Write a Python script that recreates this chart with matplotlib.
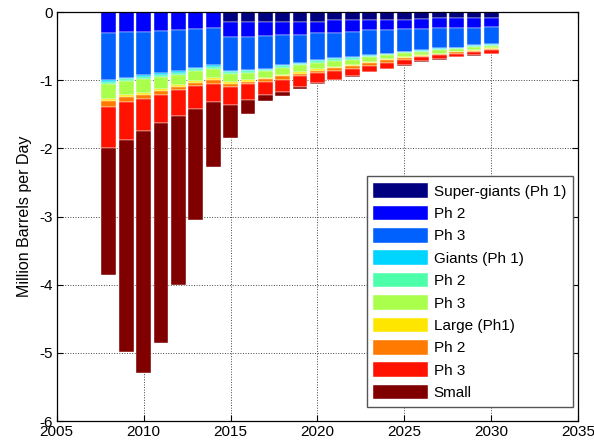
import numpy as np
import matplotlib
matplotlib.use("Agg")
import matplotlib.pyplot as plt

plt.rcParams['font.family'] = ['Liberation Sans', 'DejaVu Sans']
plt.rcParams['axes.unicode_minus'] = False

years = list(range(2008, 2031))

# Decline contributions by field class and phase (million barrels per day)
super_giants_ph1 = [0, 0, 0, 0, 0, 0, 0,
                    0.15, 0.14, 0.14, 0.14, 0.14, 0.14, 0.12, 0.12, 0.12,
                    0.11, 0.11, 0.105, 0.09, 0.09, 0.09, 0.08]
super_giants_ph2 = [0.30, 0.29, 0.29, 0.28, 0.26, 0.25, 0.24,
                    0.21, 0.22, 0.21, 0.20, 0.19, 0.17, 0.18, 0.17, 0.15,
                    0.15, 0.14, 0.145, 0.15, 0.15, 0.14, 0.145]
super_giants_ph3 = [0.70, 0.67, 0.64, 0.62, 0.61, 0.57, 0.54,
                    0.51, 0.49, 0.48, 0.44, 0.41, 0.40, 0.38, 0.37, 0.36,
                    0.35, 0.33, 0.31, 0.29, 0.28, 0.26, 0.245]
giants_ph1 = [0.02, 0.02, 0.02, 0.02, 0.02, 0.02, 0.02,
              0.015, 0.015, 0.015, 0.015, 0.015, 0.015, 0.015, 0.015, 0.01,
              0.01, 0.01, 0.01, 0.01, 0.01, 0.01, 0.01]
giants_ph2 = [0.03, 0.03, 0.03, 0.03, 0.03, 0.03, 0.03,
              0.025, 0.025, 0.025, 0.025, 0.025, 0.025, 0.025, 0.025, 0.015,
              0.015, 0.015, 0.015, 0.015, 0.015, 0.015, 0.015]
giants_ph3 = [0.22, 0.20, 0.20, 0.18, 0.15, 0.14, 0.13,
              0.12, 0.11, 0.09, 0.10, 0.10, 0.09, 0.08, 0.07, 0.075,
              0.055, 0.055, 0.045, 0.055, 0.035, 0.045, 0.035]
large_ph1 = [0.035, 0.035, 0.03, 0.03, 0.025, 0.03, 0.03,
             0.025, 0.025, 0.025, 0.025, 0.025, 0.025, 0.02, 0.02, 0.02,
             0.02, 0.015, 0.012, 0.01, 0.012, 0.008, 0.012]
large_ph2 = [0.085, 0.075, 0.07, 0.05, 0.045, 0.05, 0.06,
             0.045, 0.035, 0.035, 0.045, 0.035, 0.035, 0.04, 0.04, 0.04,
             0.03, 0.025, 0.018, 0.015, 0.018, 0.012, 0.018]
large_ph3 = [0.61, 0.56, 0.46, 0.42, 0.38, 0.33, 0.27,
             0.26, 0.23, 0.20, 0.18, 0.16, 0.14, 0.13, 0.11, 0.085,
             0.09, 0.08, 0.06, 0.055, 0.045, 0.05, 0.05]
small = [1.85, 3.10, 3.56, 3.22, 2.48, 1.63, 0.96,
         0.49, 0.21, 0.09, 0.06, 0.03, 0.02, 0.01, 0.01, 0.01,
         0.01, 0.01, 0.01, 0.01, 0.01, 0.01, 0.01]

series = [super_giants_ph1, super_giants_ph2, super_giants_ph3,
          giants_ph1, giants_ph2, giants_ph3,
          large_ph1, large_ph2, large_ph3, small]
labels = ['Super-giants (Ph 1)', 'Ph 2', 'Ph 3',
          'Giants (Ph 1)', 'Ph 2', 'Ph 3',
          'Large (Ph1)', 'Ph 2', 'Ph 3', 'Small']
colors = plt.cm.jet(np.linspace(0, 1, len(series)))

fig = plt.figure(figsize=(5.94, 4.47), dpi=100)
ax = fig.add_axes([0.0955, 0.058, 0.878, 0.915])

x = np.array(years)
bottom = np.zeros(len(years))
handles = []
for vals, lab, col in zip(series, labels, colors):
    v = np.array(vals, dtype=float)
    h = ax.bar(x, -v, bottom=bottom, width=0.85, color=col,
               edgecolor='white', linewidth=0.3, label=lab)
    handles.append(h)
    bottom = bottom - v

ax.set_xlim(2005, 2035)
ax.set_ylim(-6, 0)
ax.set_xticks(range(2005, 2036, 5))
ax.set_yticks(range(-6, 1))
ax.set_axisbelow(True)
ax.grid(True, linestyle=':', color='#444444', linewidth=0.7)
ax.tick_params(direction='in', top=True, right=True, labelsize=11,
               length=4, width=0.8, pad=3)
for s in ax.spines.values():
    s.set_linewidth(0.9)
ax.set_ylabel('Million Barrels per Day', fontsize=11.5, labelpad=5)

leg = ax.legend(handles=handles, loc='lower right',
                bbox_to_anchor=(0.99, 0.034), fontsize=11,
                fancybox=False, framealpha=1, edgecolor='#555555',
                handlelength=3.6, handleheight=1.1, labelspacing=0.45,
                handletextpad=0.35, borderpad=0.45, borderaxespad=0)
leg.get_frame().set_linewidth(1.0)

fig.savefig('out.png', dpi=100)
